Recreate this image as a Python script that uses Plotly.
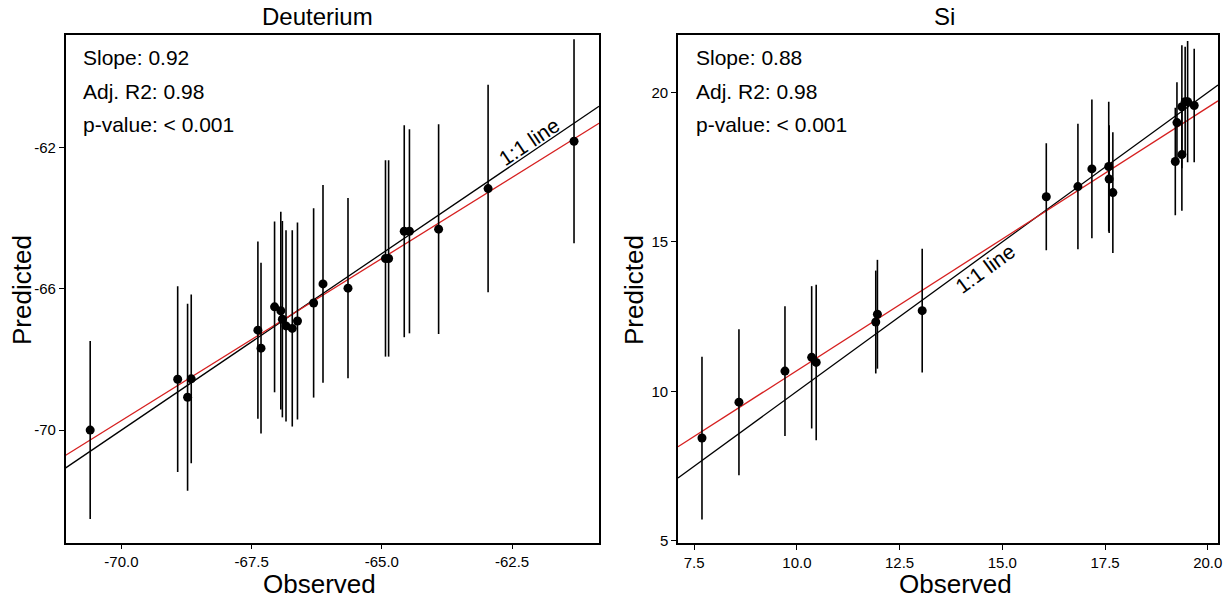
import plotly.graph_objects as go

# ---------------- data ----------------
d_obs = [-70.60, -68.92, -68.73, -68.66, -67.38, -67.32, -67.06, -66.94, -66.91, -66.84, -66.72,
         -66.62, -66.31, -66.13, -65.65, -64.93, -64.87, -64.57, -64.47, -63.91, -62.96, -61.31]
d_pred = [-70.00, -68.56, -69.07, -68.55, -67.17, -67.68, -66.51, -66.62, -66.86, -67.05, -67.12,
          -66.91, -66.40, -65.86, -65.98, -65.14, -65.14, -64.37, -64.37, -64.31, -63.16, -61.82]
d_err = [2.52, 2.63, 2.65, 2.39, 2.51, 2.42, 2.42, 2.80, 2.78, 2.71, 2.78,
         2.79, 2.68, 2.80, 2.55, 2.78, 2.78, 3.00, 2.89, 2.97, 2.94, 2.89]
d_fit = (0.918, -5.47)   # slope, intercept of red regression line
d_xrange = [-71.07, -60.83]
d_yrange = [-73.19, -58.81]
d_xticks = [-70.0, -67.5, -65.0, -62.5]
d_xticklabels = ["-70.0", "-67.5", "-65.0", "-62.5"]
d_yticks = [-70, -66, -62]
d_yticklabels = ["-70", "-66", "-62"]
d_stats = ["Slope: 0.92", "Adj. R2: 0.98", "p-value: < 0.001"]

s_obs = [7.69, 8.59, 9.71, 10.36, 10.47, 11.92, 11.96, 13.05, 16.07, 16.84, 17.18,
         17.59, 17.60, 17.69, 19.21, 19.25, 19.37, 19.37, 19.45, 19.51, 19.67]
s_pred = [8.44, 9.64, 10.68, 11.14, 10.97, 12.32, 12.58, 12.70, 16.51, 16.85, 17.44,
          17.52, 17.10, 16.65, 17.69, 18.99, 17.92, 19.52, 19.69, 19.69, 19.56]
s_err = [2.72, 2.44, 2.17, 2.38, 2.60, 1.72, 1.82, 2.07, 1.79, 2.10, 2.32,
         2.17, 1.80, 2.02, 1.80, 1.35, 1.88, 2.06, 1.84, 2.03, 1.90]
s_fit = (0.880, 1.897)
s_xrange = [7.106, 20.25]
s_yrange = [4.92, 21.93]
s_xticks = [7.5, 10.0, 12.5, 15.0, 17.5, 20.0]
s_xticklabels = ["7.5", "10.0", "12.5", "15.0", "17.5", "20.0"]
s_yticks = [5, 10, 15, 20]
s_yticklabels = ["5", "10", "15", "20"]
s_stats = ["Slope: 0.88", "Adj. R2: 0.98", "p-value: < 0.001"]

titles = ["Deuterium", "Si"]

FONT = "Liberation Sans, Arial, sans-serif"

fig = go.Figure()

panels = [
    dict(obs=d_obs, pred=d_pred, err=d_err, fit=d_fit, xr=d_xrange, yr=d_yrange,
         xt=d_xticks, xtl=d_xticklabels, yt=d_yticks, ytl=d_yticklabels, stats=d_stats,
         xa="x", ya="y", xdom=[0.0536, 0.4886], ydom=[0.0955, 0.9417],
         lbl=(-62.17, -61.82, -34.1)),
    dict(obs=s_obs, pred=s_pred, err=s_err, fit=s_fit, xr=s_xrange, yr=s_yrange,
         xt=s_xticks, xtl=s_xticklabels, yt=s_yticks, ytl=s_yticklabels, stats=s_stats,
         xa="x2", ya="y2", xdom=[0.553, 0.9935], ydom=[0.0945, 0.9422],
         lbl=(14.58, 14.12, -36.1)),
]

annotations = []
for i, p in enumerate(panels):
    # 1:1 line
    fig.add_trace(go.Scatter(x=p["xr"], y=p["xr"], mode="lines",
                             line=dict(color="black", width=1.3),
                             xaxis=p["xa"], yaxis=p["ya"], showlegend=False, hoverinfo="skip"))
    # regression line
    m, b = p["fit"]
    fig.add_trace(go.Scatter(x=p["xr"], y=[m * v + b for v in p["xr"]], mode="lines",
                             line=dict(color="#d62020", width=1.3),
                             xaxis=p["xa"], yaxis=p["ya"], showlegend=False, hoverinfo="skip"))
    # points with error bars
    fig.add_trace(go.Scatter(x=p["obs"], y=p["pred"], mode="markers",
                             marker=dict(color="black", size=9),
                             error_y=dict(type="data", array=p["err"], visible=True,
                                          color="black", thickness=1.6, width=0),
                             xaxis=p["xa"], yaxis=p["ya"], showlegend=False))
    axn = "" if i == 0 else "2"
    common = dict(showgrid=False, zeroline=False, showline=True, mirror=True,
                  linecolor="black", linewidth=1.5, ticks="outside", ticklen=5,
                  tickwidth=1.2, tickcolor="black", automargin=False,
                  tickfont=dict(family=FONT, size=15, color="black"))
    fig.layout["xaxis" + axn] = dict(domain=p["xdom"], range=p["xr"], tickvals=p["xt"],
                                     ticktext=p["xtl"], anchor="y" + axn, **common)
    fig.layout["yaxis" + axn] = dict(domain=p["ydom"], range=p["yr"], tickvals=p["yt"],
                                     ticktext=p["ytl"], anchor="x" + axn, **common)
    # stats text
    for k, t in enumerate(p["stats"]):
        annotations.append(dict(text=t, xref="x%s domain" % axn, yref="y%s domain" % axn,
                                x=0.029, y=0.955 - k * 0.066, xanchor="left", yanchor="middle",
                                showarrow=False, font=dict(family=FONT, size=21, color="black")))
    # 1:1 label
    lx, ly, ang = p["lbl"]
    annotations.append(dict(text="1:1 line", xref="x" + axn, yref="y" + axn, x=lx, y=ly,
                            textangle=ang, showarrow=False,
                            font=dict(family=FONT, size=21, color="black")))
    # title
    annotations.append(dict(text=titles[i], xref="paper", yref="paper",
                            x=(0.259 if i == 0 else 0.770), y=1 - 17 / 600,
                            xanchor="center", yanchor="middle", showarrow=False,
                            font=dict(family=FONT, size=24, color="black")))
    # axis titles
    annotations.append(dict(text="Observed", xref="paper", yref="paper",
                            x=(0.261 if i == 0 else 0.779), y=1 - 584 / 600,
                            xanchor="center", yanchor="middle", showarrow=False,
                            font=dict(family=FONT, size=26, color="black")))
    annotations.append(dict(text="Predicted", xref="paper", yref="paper",
                            x=(22 / 1226 if i == 0 else 634 / 1226), y=1 - 290 / 600,
                            xanchor="center", yanchor="middle", textangle=-90, showarrow=False,
                            font=dict(family=FONT, size=26, color="black")))

fig.update_layout(width=1226, height=600, margin=dict(l=0, r=0, t=0, b=0),
                  plot_bgcolor="white", paper_bgcolor="white",
                  annotations=annotations, font=dict(family=FONT))

fig.write_html("out.html", config={"displayModeBar": False},
               post_script="document.body.style.margin='0';document.body.style.overflow='hidden';")
